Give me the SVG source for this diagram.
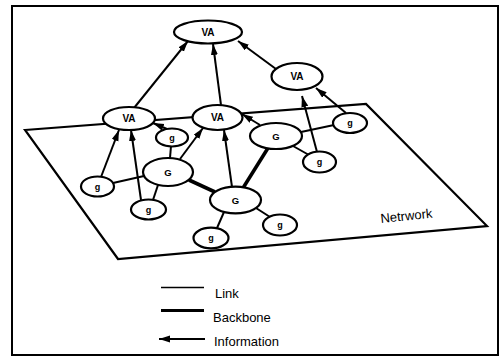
<svg xmlns="http://www.w3.org/2000/svg" width="500" height="356" viewBox="0 0 500 356">
  <style>
    .frame { fill: none; stroke: #000; stroke-width: 2; }
    .plane { fill: none; stroke: #000; stroke-width: 2.2; stroke-linejoin: miter; }
    .node ellipse { fill: #fff; stroke: #000; stroke-width: 2.2; }
    .node text { font-family: "Liberation Sans", Arial, sans-serif; font-weight: bold; text-anchor: middle; fill: #000; }
    .va text { font-size: 10px; }
    .big text { font-size: 9.5px; }
    .small text { font-size: 9px; }
    .link { stroke: #000; stroke-width: 2; fill: none; }
    .backbone { stroke: #000; stroke-width: 3.6; fill: none; }
    .info { stroke: #000; stroke-width: 2; fill: none; marker-end: url(#head); }
    .label { font-family: "Liberation Sans", Arial, sans-serif; font-size: 13px; fill: #000; }
  </style>
  <defs>
    <marker id="head" markerUnits="userSpaceOnUse" markerWidth="12" markerHeight="8" refX="11" refY="3.5" orient="auto">
      <path d="M0,0 L11,3.5 L0,7 z" fill="#000"/>
    </marker>
  </defs>

  <rect class="frame" x="12" y="6" width="486" height="349"/>

  <!-- network plane -->
  <polygon class="plane" points="25,130 366,104 487,226 118,259"/>
  <text class="label" x="381" y="223" transform="rotate(-6 381 223)">Netrwork</text>

  <g id="connectors">
    <!-- links -->
    <line class="link" x1="113" y1="183" x2="144" y2="176"/>
    <line class="link" x1="153" y1="200" x2="158" y2="185"/>
    <line class="link" x1="170" y1="158" x2="171" y2="146"/>
    <line class="link" x1="224" y1="212" x2="217" y2="228"/>
    <line class="link" x1="256" y1="208" x2="270" y2="217"/>
    <line class="link" x1="293" y1="146" x2="309" y2="155"/>
    <line class="link" x1="301" y1="132" x2="334" y2="125"/>
    <!-- backbone -->
    <line class="backbone" x1="189" y1="180" x2="215" y2="192"/>
    <line class="backbone" x1="243" y1="188" x2="268" y2="148"/>
    <!-- information flow -->
    <line class="info" x1="134" y1="108" x2="188" y2="41"/>
    <line class="info" x1="221" y1="105" x2="213" y2="44"/>
    <line class="info" x1="276" y1="69" x2="238" y2="41"/>
    <line class="info" x1="101" y1="177" x2="119" y2="130"/>
    <line class="info" x1="141" y1="200" x2="131" y2="130"/>
    <line class="info" x1="167" y1="129" x2="153" y2="123"/>
    <line class="info" x1="180" y1="159" x2="203" y2="128"/>
    <line class="info" x1="232" y1="187" x2="224" y2="130"/>
    <line class="info" x1="260" y1="125" x2="242" y2="114"/>
    <line class="info" x1="317" y1="152" x2="302" y2="96"/>
    <line class="info" x1="346" y1="113" x2="316" y2="88"/>
  </g>

  <!-- virtual agents -->
  <g id="va-top" class="node va">
    <ellipse cx="208" cy="32" rx="34" ry="11.5"/>
    <text x="208" y="35.5">VA</text>
  </g>
  <g id="va-left" class="node va">
    <ellipse cx="129" cy="118.5" rx="26" ry="11.5"/>
    <text x="129" y="122">VA</text>
  </g>
  <g id="va-mid" class="node va">
    <ellipse cx="217.5" cy="117.5" rx="25" ry="12.5"/>
    <text x="217.5" y="121">VA</text>
  </g>
  <g id="va-right" class="node va">
    <ellipse cx="297" cy="76.5" rx="25.5" ry="13.5"/>
    <text x="297" y="80">VA</text>
  </g>

  <!-- gateways -->
  <g id="g-left" class="node big">
    <ellipse cx="168" cy="172" rx="25" ry="14"/>
    <text x="168" y="175.5">G</text>
  </g>
  <g id="g-center" class="node big">
    <ellipse cx="235.5" cy="200" rx="25.5" ry="13.3"/>
    <text x="235.5" y="203.5">G</text>
  </g>
  <g id="g-right" class="node big">
    <ellipse cx="276" cy="136" rx="26" ry="13"/>
    <text x="276" y="139.5">G</text>
  </g>

  <!-- hosts -->
  <g id="h-near-va" class="node small">
    <ellipse cx="172" cy="137.5" rx="16" ry="9"/>
    <text x="172" y="140.5">g</text>
  </g>
  <g id="h-far-left" class="node small">
    <ellipse cx="97.5" cy="186.5" rx="16.5" ry="10"/>
    <text x="97.5" y="189.5">g</text>
  </g>
  <g id="h-bottom-left" class="node small">
    <ellipse cx="148.5" cy="209.5" rx="17.5" ry="10"/>
    <text x="148.5" y="212.5">g</text>
  </g>
  <g id="h-below" class="node small">
    <ellipse cx="211" cy="238" rx="17.5" ry="10.3"/>
    <text x="211" y="241">g</text>
  </g>
  <g id="h-right-low" class="node small">
    <ellipse cx="280" cy="225" rx="17" ry="10.5"/>
    <text x="280" y="228">g</text>
  </g>
  <g id="h-mid-right" class="node small">
    <ellipse cx="319.5" cy="162" rx="16.5" ry="10.5"/>
    <text x="319.5" y="165">g</text>
  </g>
  <g id="h-far-right" class="node small">
    <ellipse cx="350" cy="123" rx="17" ry="10"/>
    <text x="350" y="126">g</text>
  </g>

  <!-- legend -->
  <g id="legend">
    <line x1="161" y1="287.5" x2="204" y2="287.5" stroke="#000" stroke-width="1.5"/>
    <text class="label" x="215" y="298">Link</text>
    <line x1="161" y1="310.5" x2="204" y2="310.5" stroke="#000" stroke-width="3"/>
    <text class="label" x="213" y="321.5">Backbone</text>
    <line class="info" x1="205" y1="339" x2="159" y2="339"/>
    <text class="label" x="214" y="346">Information</text>
  </g>
</svg>
